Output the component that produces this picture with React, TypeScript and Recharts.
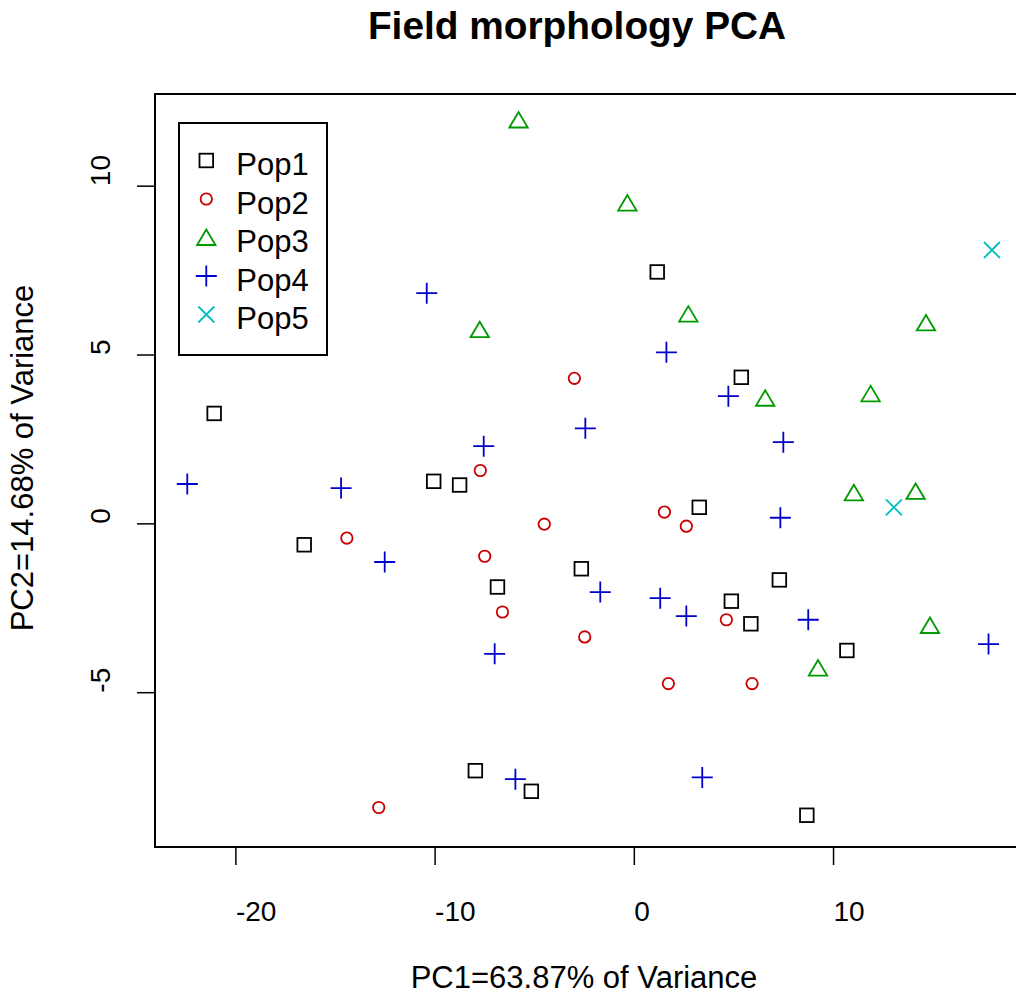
import {
  ScatterChart,
  Scatter,
  XAxis,
  YAxis,
  Legend,
  ReferenceArea,
  Customized,
} from "recharts";

// PC1 / PC2 scores per population
const pop1: [number, number][] = [
  [-21.09, 3.27], [-10.07, 1.26], [-8.77, 1.15], [-16.57, -0.62],
  [-6.87, -1.87], [-2.66, -1.33], [1.15, 7.46], [5.37, 4.34],
  [3.26, 0.49], [7.28, -1.66], [4.87, -2.29], [5.85, -2.96],
  [10.67, -3.75], [8.66, -8.63], [-7.98, -7.31], [-5.17, -7.92],
];
const pop2: [number, number][] = [
  [-3.01, 4.31], [-7.73, 1.58], [-4.52, -0.01], [-14.43, -0.42],
  [-7.51, -0.96], [-6.62, -2.61], [-2.49, -3.35], [1.51, 0.35],
  [2.61, -0.07], [4.62, -2.84], [1.71, -4.73], [5.91, -4.73],
  [-12.83, -8.4],
];
const pop3: [number, number][] = [
  [-5.81, 11.96], [-7.76, 5.75], [-0.35, 9.5], [2.71, 6.21],
  [14.64, 5.95], [6.57, 3.72], [11.86, 3.85], [11.02, 0.92],
  [14.12, 0.96], [14.84, -3.01], [9.22, -4.27],
];
const pop4: [number, number][] = [
  [-10.42, 6.83], [1.61, 5.08], [-22.44, 1.18], [-14.72, 1.06],
  [-7.56, 2.3], [-2.46, 2.83], [-12.53, -1.13], [-7.01, -3.85],
  [4.72, 3.78], [7.48, 2.42], [7.33, 0.18], [-1.71, -2.02],
  [1.3, -2.2], [2.61, -2.73], [8.73, -2.84], [17.78, -3.56],
  [3.41, -7.51], [-5.97, -7.56],
];
const pop5: [number, number][] = [
  [17.95, 8.11], [13.03, 0.49],
];

const popNames = ["Pop1", "Pop2", "Pop3", "Pop4", "Pop5"];
const popColors = ["#000000", "#CC0000", "#009900", "#0000CC", "#00BFBF"];
const popShapes = ["square", "circle", "triangle", "plus", "cross"];

const xTicks = [-20, -10, 0, 10];
const yTicks = [-5, 0, 5, 10];
const xDomain: [number, number] = [-24.06, 19.56];
const yDomain: [number, number] = [-9.57, 12.73];

const FONT = "'Liberation Sans', Arial, Helvetica, sans-serif";
const SW = 1.8;

function Marker({ shape, cx, cy, color }: { shape: string; cx: number; cy: number; color: string }) {
  if (shape === "square") {
    return <rect x={cx - 6.8} y={cy - 6.8} width={13.6} height={13.6} fill="none" stroke={color} strokeWidth={SW} />;
  }
  if (shape === "circle") {
    return <circle cx={cx} cy={cy} r={5.7} fill="none" stroke={color} strokeWidth={SW} />;
  }
  if (shape === "triangle") {
    return (
      <polygon
        points={`${cx},${cy - 8} ${cx - 9.2},${cy + 7.5} ${cx + 9.2},${cy + 7.5}`}
        fill="none"
        stroke={color}
        strokeWidth={SW}
      />
    );
  }
  if (shape === "plus") {
    return (
      <path d={`M${cx - 10.5},${cy}H${cx + 10.5}M${cx},${cy - 10.5}V${cy + 10.5}`} stroke={color} strokeWidth={SW} fill="none" />
    );
  }
  return (
    <path
      d={`M${cx - 8},${cy - 8}L${cx + 8},${cy + 8}M${cx - 8},${cy + 8}L${cx + 8},${cy - 8}`}
      stroke={color}
      strokeWidth={SW}
      fill="none"
    />
  );
}

const series = [pop1, pop2, pop3, pop4, pop5].map((pts) => pts.map(([x, y]) => ({ x, y })));

function XTick(props: any) {
  return (
    <text x={props.x} y={921} textAnchor="start" fontFamily={FONT} fontSize={28} fill="#000">
      {props.payload.value}
    </text>
  );
}

function YTick(props: any) {
  return (
    <text
      x={110}
      y={props.y}
      transform={`rotate(-90, 110, ${props.y})`}
      textAnchor="start"
      fontFamily={FONT}
      fontSize={28}
      fill="#000"
    >
      {props.payload.value}
    </text>
  );
}

function LegendBox() {
  return (
    <svg width={150} height={235}>
      <rect x={1} y={1} width={148} height={232} fill="#fff" stroke="#000" strokeWidth={2} />
      {popNames.map((name, i) => (
        <g key={name}>
          <Marker shape={popShapes[i]} cx={28.3} cy={38.5 + i * 38.5} color={popColors[i]} />
          <text x={58.3} y={53.4 + i * 38.5} fontFamily={FONT} fontSize={31} fill="#000">
            {name}
          </text>
        </g>
      ))}
    </svg>
  );
}

function Titles() {
  return (
    <g fontFamily={FONT} fill="#000">
      <text x={577} y={39} textAnchor="middle" fontSize={38.8} fontWeight="bold">
        Field morphology PCA
      </text>
      <text x={584} y={988} textAnchor="middle" fontSize={31}>
        PC1=63.87% of Variance
      </text>
      <text x={33} y={458} textAnchor="middle" fontSize={31} transform="rotate(-90, 33, 458)">
        PC2=14.68% of Variance
      </text>
    </g>
  );
}

export default function App() {
  return (
    <div style={{ position: "fixed", left: 0, top: 0, width: 1016, height: 996, overflow: "hidden", background: "#fff" }}>
      <ScatterChart width={1030} height={996} margin={{ top: 94, right: 6, bottom: 0, left: 0 }}>
        <XAxis
          dataKey="x"
          type="number"
          domain={xDomain}
          ticks={xTicks}
          allowDataOverflow
          axisLine={false}
          tickSize={18}
          tickLine={{ stroke: "#000", strokeWidth: 1.5 }}
          tick={<XTick />}
          height={149}
        />
        <YAxis
          dataKey="y"
          type="number"
          domain={yDomain}
          ticks={yTicks}
          allowDataOverflow
          axisLine={false}
          tickSize={18}
          tickLine={{ stroke: "#000", strokeWidth: 1.5 }}
          tick={<YTick />}
          width={155}
        />
        <ReferenceArea
          x1={xDomain[0]}
          x2={xDomain[1]}
          y1={yDomain[0]}
          y2={yDomain[1]}
          fill="none"
          stroke="#000"
          strokeWidth={2}
          ifOverflow="visible"
        />
        {series.map((data, i) => (
          <Scatter
            key={popNames[i]}
            name={popNames[i]}
            data={data}
            isAnimationActive={false}
            shape={(p: any) => <Marker shape={popShapes[i]} cx={p.cx} cy={p.cy} color={popColors[i]} />}
          />
        ))}
        <Legend
          layout="vertical"
          align="center"
          verticalAlign="middle"
          content={() => <LegendBox />}
          wrapperStyle={{ left: 177.7, top: 122.3, width: 150, height: 235 }}
        />
        <Customized component={<Titles />} />
      </ScatterChart>
    </div>
  );
}
